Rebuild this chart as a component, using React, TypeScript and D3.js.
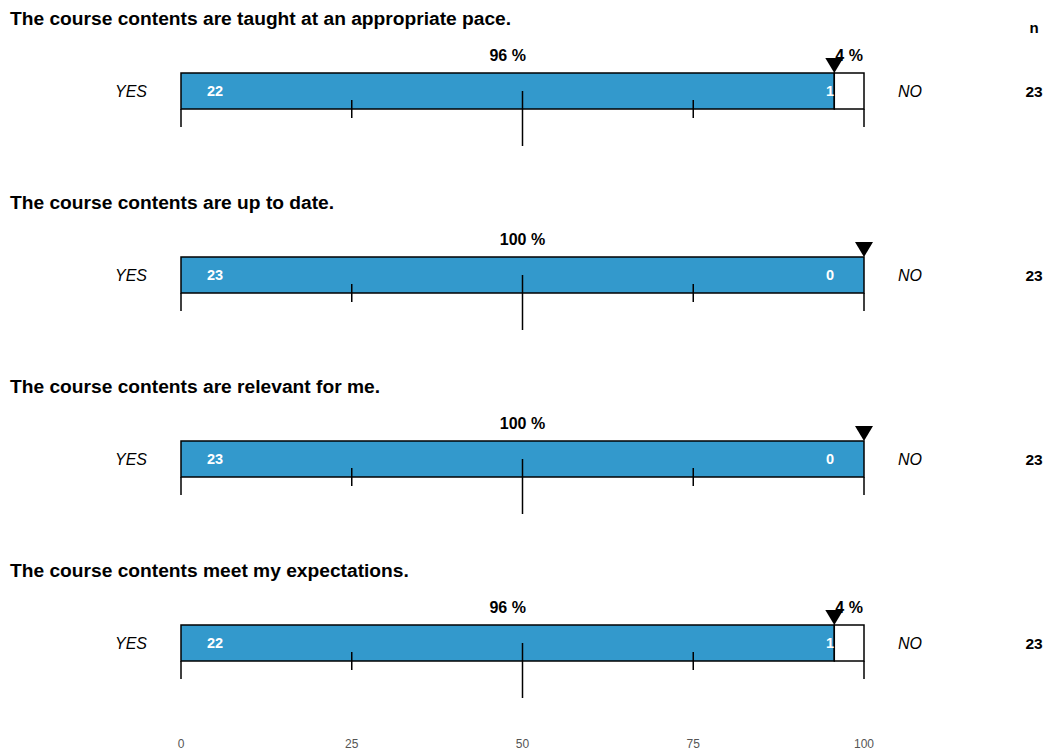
import React from "react";
import * as d3 from "d3";

const questions = [
  "The course contents are taught at an appropriate pace.",
  "The course contents are up to date.",
  "The course contents are relevant for me.",
  "The course contents meet my expectations.",
];
const yesCounts = [22, 23, 23, 22];
const noCounts = [1, 0, 0, 1];
const axisTicks = [0, 25, 50, 75, 100];
const leftLabel = "YES";
const rightLabel = "NO";

const W = 1049;
const H = 754;
const FONT = "'Liberation Sans', Arial, Helvetica, sans-serif";

export default function App() {
  const x = d3.scaleLinear().domain([0, 100]).range([181, 864]);
  const panelY = d3.scaleLinear().domain([0, 1]).range([0, 184]);
  const barH = 36;
  const barTop0 = 73;

  return (
    <svg width={W} height={H} style={{ position: "absolute", left: 0, top: 0 }} fontFamily={FONT}>
      <rect width={W} height={H} fill="#fff" />
      <text x={1034} y={33} fontSize={15} fontWeight="bold" textAnchor="middle">n</text>
      {questions.map((q, i) => {
        const oy = panelY(i);
        const top = barTop0 + oy;
        const bot = top + barH;
        const n = yesCounts[i] + noCounts[i];
        const fYes = (yesCounts[i] / n) * 100;
        const pYes = Math.round(fYes);
        const pNo = 100 - pYes;
        const xs = x(fYes);
        return (
          <g key={i}>
            <text x={10} y={25 + oy} fontSize={19.2} fontWeight="bold">{q}</text>
            <text x={(x(0) + xs) / 2} y={61 + oy} fontSize={16} fontWeight="bold" textAnchor="middle">{pYes} %</text>
            {pNo > 0 && (
              <text x={(xs + x(100)) / 2} y={61 + oy} fontSize={16} fontWeight="bold" textAnchor="middle">{pNo} %</text>
            )}
            <rect x={x(0)} y={top} width={xs - x(0)} height={barH} fill="#3399cc" stroke="#000" strokeWidth={1.5} />
            <rect x={xs} y={top} width={x(100) - xs} height={barH} fill="#fff" stroke="#000" strokeWidth={1.5} />
            <text x={207} y={top + 23} fontSize={14.5} fontWeight="bold" fill="#fff">{yesCounts[i]}</text>
            <text x={834} y={top + 23} fontSize={14.5} fontWeight="bold" fill="#fff" textAnchor="end">{noCounts[i]}</text>
            <path d={`M${xs - 9},${top - 15} L${xs + 9},${top - 15} L${xs},${top} Z`} fill="#000" />
            {axisTicks.map((t) => {
              let y1 = bot, y2 = bot + 18;
              if (t === 25 || t === 75) { y1 = bot - 9; y2 = bot + 9; }
              if (t === 50) { y1 = bot - 18; y2 = bot + 37; }
              return <line key={t} x1={x(t)} x2={x(t)} y1={y1} y2={y2} stroke="#000" strokeWidth={1.5} />;
            })}
            <text x={131} y={top + 24} fontSize={16} fontStyle="italic" textAnchor="middle">{leftLabel}</text>
            <text x={910} y={top + 24} fontSize={16} fontStyle="italic" textAnchor="middle">{rightLabel}</text>
            <text x={1034} y={top + 24} fontSize={15.5} fontWeight="bold" textAnchor="middle">{n}</text>
          </g>
        );
      })}
      {axisTicks.map((t) => (
        <text key={t} x={x(t)} y={748} fontSize={12} fill="#555" textAnchor="middle">{t}</text>
      ))}
    </svg>
  );
}
